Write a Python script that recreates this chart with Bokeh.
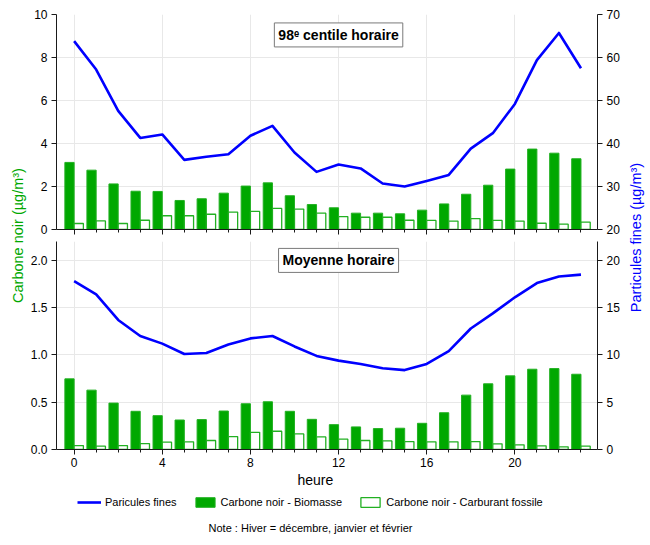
import math
from bokeh.plotting import figure
from bokeh.models import (Range1d, LinearAxis, FixedTicker, Label, Legend, LegendItem,
                          ColumnDataSource, PrintfTickFormatter, Title)
from bokeh.layouts import row, column
from bokeh.transform import dodge
from bokeh.embed import file_html
from bokeh.resources import INLINE

# ---------------- data ----------------
hours = list(range(24))
major_hours = [0, 4, 8, 12, 16, 20]

top_biomasse = [3.12, 2.76, 2.12, 1.78, 1.77, 1.35, 1.43, 1.69, 2.02, 2.17, 1.57, 1.16,
                1.01, 0.76, 0.76, 0.73, 0.90, 1.19, 1.64, 2.06, 2.81, 3.74, 3.55, 3.29]
top_fossile = [0.28, 0.40, 0.28, 0.43, 0.64, 0.64, 0.71, 0.81, 0.84, 0.98, 0.95, 0.76,
               0.60, 0.57, 0.57, 0.43, 0.42, 0.39, 0.51, 0.42, 0.39, 0.29, 0.25, 0.34]
top_particules = [63.8, 57.2, 47.6, 41.3, 42.1, 36.2, 36.9, 37.5, 41.8, 44.1, 37.9, 33.4,
                  35.1, 34.2, 30.7, 30.0, 31.3, 32.7, 38.8, 42.4, 49.2, 59.4, 65.7, 57.5]

bot_biomasse = [0.747, 0.628, 0.491, 0.404, 0.358, 0.312, 0.316, 0.407, 0.484, 0.505, 0.404, 0.319,
                0.263, 0.239, 0.221, 0.225, 0.277, 0.389, 0.575, 0.695, 0.779, 0.849, 0.856, 0.796]
bot_fossile = [0.042, 0.035, 0.042, 0.063, 0.077, 0.081, 0.095, 0.137, 0.182, 0.193, 0.165, 0.133,
               0.109, 0.095, 0.091, 0.084, 0.081, 0.081, 0.084, 0.060, 0.049, 0.039, 0.028, 0.035]
bot_particules = [17.8, 16.4, 13.7, 12.0, 11.2, 10.1, 10.2, 11.1, 11.75, 12.0, 10.9, 9.9,
                  9.4, 9.05, 8.6, 8.4, 9.05, 10.4, 12.8, 14.4, 16.1, 17.6, 18.3, 18.5]

top_left_ticks = [0, 2, 4, 6, 8, 10]
top_right_ticks = [20, 30, 40, 50, 60, 70]
bot_left_ticks = [0.0, 0.5, 1.0, 1.5, 2.0]
bot_right_ticks = [0, 5, 10, 15, 20]

titre_haut = "98ᵉ centile horaire"
titre_bas = "Moyenne horaire"
label_gauche = "Carbone noir (µg/m³)"
label_droite = "Particules fines (µg/m³)"
label_x = "heure"
legend_labels = ["Paricules fines", "Carbone noir - Biomasse", "Carbone noir - Carburant fossile"]
note = "Note : Hiver = décembre, janvier et février"

# ---------------- style ----------------
FONT = "Liberation Sans"
GREEN = "#00a800"
GREEN_LINE = "#22b022"
BLUE = "#0000ff"
AXIS = "#1a1a1a"
GRID = "#e8e8e8"
W = 596
TOTAL_H = 540
TOP_H = 238
BOT_H = 251
FOOT_H = TOTAL_H - TOP_H - BOT_H
X_RANGE = (-0.8, 23.75)


def style_axis(ax, size="12px"):
    ax.axis_line_color = AXIS
    ax.major_tick_line_color = AXIS
    ax.minor_tick_line_color = AXIS
    ax.major_tick_out = 5
    ax.major_tick_in = 0
    ax.minor_tick_out = 3
    ax.minor_tick_in = 0
    ax.major_label_text_font = FONT
    ax.major_label_text_font_size = size
    ax.major_label_text_color = "black"
    ax.major_label_standoff = 4


BIO_STYLE = dict(fill_color=GREEN, line_color=GREEN_LINE, line_width=1)
FOS_STYLE = dict(fill_color="white", line_color=GREEN_LINE, line_width=1.3)
PM_STYLE = dict(line_color=BLUE, line_width=2.6, line_join="round")


def draw_series(p, src):
    rb = p.vbar(x=dodge("h", -0.21, range=p.x_range), top="bio", width=0.42, bottom=0,
                source=src, **BIO_STYLE)
    rf = p.vbar(x=dodge("h", 0.21, range=p.x_range), top="fos", width=0.42, bottom=0,
                source=src, **FOS_STYLE)
    rp = p.line(x="h", y="pm", source=src, y_range_name="pm", **PM_STYLE)
    return rb, rf, rp


def make_panel(height, mtop, mbottom, ylim, yrlim, lticks, rticks, src,
               show_xlabels, lfmt=None):
    p = figure(width=W, height=height, toolbar_location=None, output_backend="svg",
               x_range=Range1d(*X_RANGE), y_range=Range1d(*ylim),
               min_border_left=26, min_border_right=26,
               min_border_top=mtop, min_border_bottom=mbottom)
    p.extra_y_ranges = {"pm": Range1d(*yrlim)}
    p.outline_line_color = None
    p.background_fill_color = "white"
    p.border_fill_color = "white"

    xax = p.xaxis[0]
    xax.ticker = FixedTicker(ticks=major_hours, minor_ticks=hours)
    style_axis(xax)
    if show_xlabels:
        xax.major_label_standoff = 3
    else:
        xax.major_label_text_font_size = "0px"
        xax.major_label_text_color = None
        xax.major_label_standoff = 0
    yax = p.yaxis[0]
    yax.ticker = FixedTicker(ticks=lticks)
    style_axis(yax)
    yax.minor_tick_line_color = None
    if lfmt:
        yax.formatter = PrintfTickFormatter(format=lfmt)
    rax = LinearAxis(y_range_name="pm", ticker=FixedTicker(ticks=rticks))
    style_axis(rax)
    rax.minor_tick_line_color = None
    p.add_layout(rax, "right")

    p.xgrid.ticker = FixedTicker(ticks=major_hours)
    p.xgrid.grid_line_color = GRID
    p.ygrid.grid_line_color = GRID

    draw_series(p, src)
    return p


src_top = ColumnDataSource(dict(h=hours, bio=top_biomasse, fos=top_fossile, pm=top_particules))
src_bot = ColumnDataSource(dict(h=hours, bio=bot_biomasse, fos=bot_fossile, pm=bot_particules))

top = make_panel(TOP_H, 14, 9, (0, 10), (20, 70), top_left_ticks, top_right_ticks,
                 src_top, False)
bot = make_panel(BOT_H, 3, 40, (0, 2.2), (0, 22), bot_left_ticks, bot_right_ticks,
                 src_bot, True, lfmt="%.1f")

box_style = dict(text_align="center", text_baseline="middle", text_font=FONT,
                 text_font_style="bold", text_font_size="14px", text_color="black",
                 background_fill_color="white", border_line_color="#7a7a7a",
                 border_line_width=1, padding=4)
top.add_layout(Label(x=12, y=9.05, text=titre_haut, **box_style))
bot.add_layout(Label(x=12, y=2.0, text=titre_bas, **box_style))

bot.add_layout(Title(text=label_x, align="left", offset=241, standoff=0,
                     text_font=FONT, text_font_size="14px", text_font_style="normal",
                     text_color="black"), "below")

# footer: legend + note (legend proxies: hidden renderers of the same series)
foot = figure(width=W, height=FOOT_H, toolbar_location=None, output_backend="svg",
              x_axis_type=None, y_axis_type=None, min_border=0,
              x_range=Range1d(1000, 1001), y_range=Range1d(-1000, -999))
foot.extra_y_ranges = {"pm": Range1d(-1000, -999)}
foot.outline_line_color = None
foot.grid.visible = False
br, fr, lr = draw_series(foot, src_bot)
for r in (br, fr, lr):
    r.visible = False
legend = Legend(items=[LegendItem(label=legend_labels[0], renderers=[lr]),
                       LegendItem(label=legend_labels[1], renderers=[br]),
                       LegendItem(label=legend_labels[2], renderers=[fr])],
                orientation="horizontal", location=(21, TOTAL_H - 508),
                border_line_color=None, background_fill_alpha=0,
                padding=0, margin=0, spacing=16, label_standoff=4,
                glyph_width=24, glyph_height=12, label_height=12,
                label_text_font=FONT, label_text_font_size="11px",
                label_text_color="black", label_text_baseline="middle")
foot.add_layout(legend, "center")
foot.add_layout(Label(x=254, y=TOTAL_H - 527, x_units="screen", y_units="screen", text=note,
                      text_align="center", text_baseline="middle", text_font=FONT,
                      text_font_size="11px", text_color="black"))


def label_fig(width, text, color, lx, ly):
    f = figure(width=width, height=TOTAL_H, toolbar_location=None, output_backend="svg",
               x_axis_type=None, y_axis_type=None, min_border=0,
               x_range=Range1d(0, 1), y_range=Range1d(0, 1))
    f.outline_line_color = None
    f.grid.visible = False
    f.add_layout(Label(x=lx, y=ly, x_units="screen", y_units="screen", text=text,
                       angle=math.pi / 2, text_align="center", text_baseline="middle",
                       text_font=FONT, text_font_size="14.5px", text_color=color))
    return f


left = label_fig(27, label_gauche, GREEN, 17, TOTAL_H - 235)
right = label_fig(25, label_droite, BLUE, 12, TOTAL_H - 237)

layout = row(left, column(top, bot, foot), right)
open("out.html", "w").write(file_html(layout, INLINE))
